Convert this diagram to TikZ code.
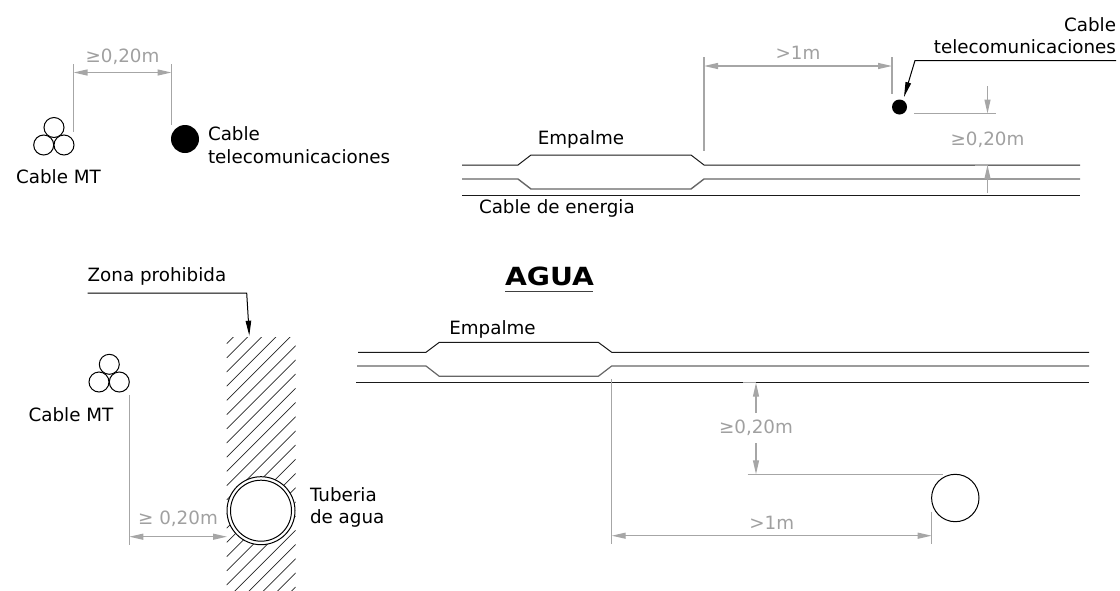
\documentclass[tikz,border=0pt]{standalone}
\usepackage{fontspec}
\setmainfont{DejaVu Sans}
\newfontface\aguaface[FakeStretch=1.13]{DejaVu Sans Bold}
\usetikzlibrary{arrows.meta}
\definecolor{dimgray}{HTML}{A6A6A6}
\definecolor{dimtext}{HTML}{A0A0A0}
\definecolor{cableink}{HTML}{1A1A1A}
\tikzset{
  x=1pt,y=-1pt,
  lbl/.style={font=\fontsize{18.3}{22}\selectfont,text=black,inner sep=0pt,outer sep=0pt},
  dimlbl/.style={lbl,text=dimtext},
  cable/.style={draw=cableink,line width=1pt,line join=round},
  cablemid/.style={draw=black!60,line width=1.4pt,line join=round},
  extline/.style={draw=dimgray,line width=1.2pt},
  dimline/.style={draw=dimgray,line width=1.2pt},
  dimboth/.style={dimline,{Triangle[length=14pt,width=6pt,color=dimgray]}-{Triangle[length=14pt,width=6pt,color=dimgray]}},
  dimend/.style={dimline,-{Triangle[length=14pt,width=6pt,color=dimgray]}},
  leader/.style={draw=black,line width=1pt,-{Triangle[length=15pt,width=5.5pt,color=black]}},
  core/.style={draw=black,line width=1pt,fill=white},
  hatchline/.style={draw=black!85,line width=.7pt}
}
\begin{document}
\begin{tikzpicture}
\useasboundingbox (0,0) rectangle (1120,590);
% ---- top left
\draw[core] (54,127.5) circle[radius=10];
\draw[core] (43.7,145) circle[radius=10];
\draw[core] (64,145) circle[radius=10];
\fill[black] (185,139) circle[radius=14];
\coordinate (tla) at (73.5,72.5);
\coordinate (tlb) at (171.5,72.5);
\draw[extline] (73.5,64) -- (73.5,132);
\draw[extline] (171.5,64) -- (171.5,125);
\draw[dimboth] (tla) -- (tlb);
\node[dimlbl] (tlDim) at (122.5,57) {≥0,20m};
\node[lbl,anchor=west] (tlCable) at (208,134) {Cable};
\node[lbl,anchor=west] (tlTele) at (208,157) {telecomunicaciones};
\node[lbl] (tlMT) at (58.5,177) {Cable MT};
% ---- top right
\draw[cable] (462,165) -- (518,165) -- (531,155) -- (691,155) -- (704,165) -- (1080,165);
\draw[cablemid] (462,179) -- (518,179) -- (531,189) -- (691,189) -- (704,179) -- (1080,179);
\draw[cable] (462,195.5) -- (1080,195.5);
\node[lbl] (trEmp) at (581,139) {Empalme};
\node[lbl,anchor=west] (trEn) at (479,208) {Cable de energia};
\draw[extline] (704,57) -- (704,151);
\draw[extline] (892,57) -- (892,94);
\coordinate (tra) at (704,66);
\coordinate (trb) at (892,66);
\draw[dimboth] (tra) -- (trb);
\node[dimlbl] (trDim) at (798,53) {>1m};
\fill[black] (899.5,107) circle[radius=7.5];
\coordinate (trL0) at (1116,60.5);
\coordinate (trL1) at (915,60.5);
\coordinate (trL2) at (904,97);
\draw[leader] (trL0) -- (trL1) -- (trL2);
\node[lbl,anchor=east] (trCable) at (1116,25) {Cable};
\node[lbl,anchor=east] (trTele) at (1116,47) {telecomunicaciones};
\draw[extline] (914,113.5) -- (996,113.5);
\draw[dimend] (987.5,86) -- (987.5,113.5);
\node[dimlbl] (trDim2) at (987.5,140) {≥0,20m};
\draw[extline,line width=.8pt] (975,165) -- (987.5,165);
\draw[dimend] (987.5,193) -- (987.5,165);
% ---- bottom left
\node[lbl,anchor=west] (zona) at (87.7,276.7) {Zona prohibida};
\coordinate (zL0) at (87.7,293);
\coordinate (zL1) at (246.7,293);
\coordinate (zL2) at (249.3,335.7);
\draw[leader] (zL0) -- (zL1) -- (zL2);
\begin{scope}
\clip (226.7,337) rectangle (295.7,590);
\foreach \k in {0,...,24}{
  \pgfmathsetmacro{\c}{570.3+14.2*\k}
  \draw[hatchline] (226.7,\c-226.7) -- (295.7,\c-295.7);
}
\end{scope}
\draw[draw=black,line width=1pt,fill=white] (261,510.7) circle[radius=34];
\draw[draw=black,line width=1pt] (261,510.7) circle[radius=30.5];
\draw[core] (109.3,364.3) circle[radius=10];
\draw[core] (99,382) circle[radius=10];
\draw[core] (119.3,382) circle[radius=10];
\node[lbl] (blMT) at (71,415) {Cable MT};
\draw[extline] (129.3,395) -- (129.3,545);
\coordinate (bla) at (129.3,536.7);
\coordinate (blb) at (227,536.7);
\draw[dimboth] (bla) -- (blb);
\node[dimlbl] (blDim) at (178,519) {≥ 0,20m};
\node[lbl,anchor=west] (tub) at (310,495) {Tuberia};
\node[lbl,anchor=west] (agua) at (310,518) {de agua};
% ---- bottom right
\node[font=\fontsize{25}{28}\aguaface,inner sep=0pt] (aguaT) at (549.5,276) {AGUA};
\draw[draw=black!75,line width=1.5pt] (505,291.7) -- (593,291.7);
\node[lbl] (brEmp) at (492.5,329) {Empalme};
\draw[cable] (358,352.3) -- (426,352.3) -- (439.3,342.3) -- (598.3,342.3) -- (611.7,352.3) -- (1089,352.3);
\draw[cablemid,line width=1.2pt] (357,366) -- (426,366) -- (439.3,376.3) -- (598.3,376.3) -- (611.7,366) -- (1089,366);
\draw[cable] (356,382.7) -- (1089,382.7);
\draw[extline] (611.7,379.3) -- (611.7,544);
\draw[extline] (931.7,511.7) -- (931.7,544);
\coordinate (bra) at (611.7,535.7);
\coordinate (brb) at (931.7,535.7);
\draw[dimboth] (bra) -- (brb);
\node[dimlbl] (brDim) at (771.7,522.7) {>1m};
\draw[extline,line width=.8pt] (743,382.7) -- (756,382.7);
\draw[dimend] (756,413) -- (756,382.7);
\draw[dimend] (756,443.3) -- (756,474.3);
\node[dimlbl] (brDim2) at (756,427.7) {≥0,20m};
\draw[extline] (747.7,474.3) -- (943,474.3);
\draw[draw=black,line width=1pt] (955.3,498) circle[radius=23.7];
\end{tikzpicture}
\end{document}
